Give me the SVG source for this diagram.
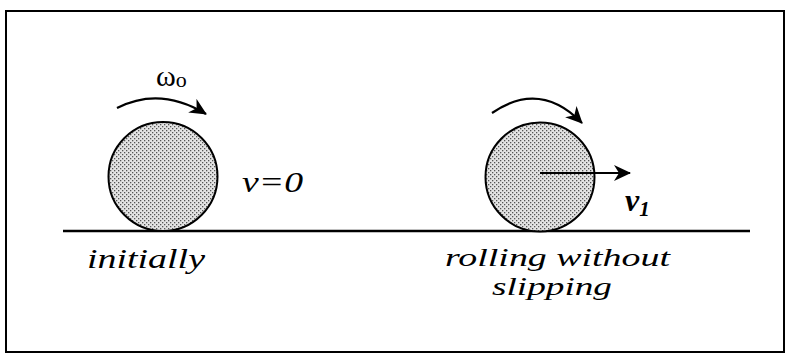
<svg xmlns="http://www.w3.org/2000/svg" width="787" height="356" viewBox="0 0 787 356">
<style>
.wheel{fill:url(#dots);stroke:#000;stroke-width:2}
.arc{fill:none;stroke:#000;stroke-width:2.2}
</style>
<defs>
<pattern id="dots" width="4" height="4" patternUnits="userSpaceOnUse">
<rect width="4" height="4" fill="#e4e4e4"/>
<rect x="0" y="0" width="1.3" height="1.3" fill="#555"/>
<rect x="2" y="2" width="1.3" height="1.3" fill="#555"/>
</pattern>
<marker id="ah" markerWidth="18" markerHeight="16" refX="16" refY="8" orient="auto" markerUnits="userSpaceOnUse">
<path d="M0,0 L17,8 L0,16 L5,8 Z" fill="#000"/>
</marker>
</defs>
<rect x="6" y="11" width="778" height="341" fill="none" stroke="#000" stroke-width="2"/>
<g id="ground"><line x1="63" y1="231" x2="750" y2="231" stroke="#000" stroke-width="2.5"/></g>
<g id="wheel1">
<circle class="wheel" cx="163" cy="176.5" r="54.5"/>
</g>
<g id="wheel2">
<circle class="wheel" cx="540" cy="177" r="54.5"/>
</g>
<g id="connectors">
<path class="arc" d="M117,108 Q160,86 206,114" marker-end="url(#ah)"/>
<path class="arc" d="M492,113 Q540,80 582,123" marker-end="url(#ah)"/>
<line x1="540" y1="173" x2="630" y2="173" stroke="#000" stroke-width="2" marker-end="url(#ah)"/>
</g>
<g id="labels">
<text x="156" y="86" font-family="Liberation Serif" font-size="30">ω<tspan font-size="22" dy="1">o</tspan></text>
<text x="242" y="192" font-family="Liberation Serif" font-style="italic" font-size="29" textLength="61" lengthAdjust="spacingAndGlyphs">v=0</text>
<text x="625" y="211" font-family="Liberation Serif" font-style="italic" font-weight="bold" font-size="32">v<tspan font-size="21" dy="5">1</tspan></text>
<text x="87" y="268" font-family="Liberation Serif" font-style="italic" font-size="28" textLength="118" lengthAdjust="spacingAndGlyphs">initially</text>
<text x="445" y="266" font-family="Liberation Serif" font-style="italic" font-size="26" textLength="225" lengthAdjust="spacingAndGlyphs">rolling without</text>
<text x="492" y="295" font-family="Liberation Serif" font-style="italic" font-size="26" textLength="120" lengthAdjust="spacingAndGlyphs">slipping</text>
</g>
</svg>
